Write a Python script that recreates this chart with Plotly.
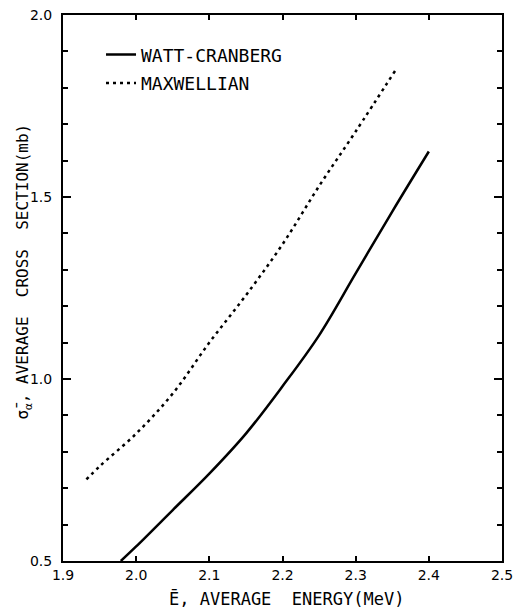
import plotly.graph_objects as go

# Watt-Cranberg spectrum (solid)
wc_energy = [1.979, 2.00, 2.05, 2.10, 2.15, 2.20, 2.25, 2.30, 2.35, 2.40]
wc_sigma = [0.50, 0.54, 0.64, 0.74, 0.85, 0.98, 1.12, 1.29, 1.46, 1.625]

# Maxwellian spectrum (dotted)
mx_energy = [1.932, 1.95, 2.00, 2.05, 2.10, 2.15, 2.20, 2.25, 2.30, 2.355]
mx_sigma = [0.724, 0.76, 0.85, 0.96, 1.10, 1.23, 1.37, 1.53, 1.68, 1.85]

x_ticks = [1.9, 2.0, 2.1, 2.2, 2.3, 2.4, 2.5]
x_tick_labels = ["1.9", "2.0", "2.1", "2.2", "2.3", "2.4", "2.5"]
y_ticks = [0.5, 1.0, 1.5, 2.0]
y_tick_labels = ["0.5", "1.0", "1.5", "2.0"]

TICKFONT = "DejaVu Sans, sans-serif"
LETTERING = "DejaVu Sans Mono, Liberation Mono, monospace"

fig = go.Figure()
fig.add_trace(go.Scatter(x=wc_energy, y=wc_sigma, mode="lines", name="WATT-CRANBERG",
                         legendgroup="a",
                         line=dict(color="black", width=2.5, shape="spline")))
fig.add_trace(go.Scatter(x=mx_energy, y=mx_sigma, mode="lines", name="MAXWELLIAN",
                         legendgroup="b",
                         line=dict(color="black", width=2.5, dash="3px,4px", shape="spline")))

axis_common = dict(showline=True, linecolor="black", linewidth=2, mirror="allticks",
                   ticks="inside", tickcolor="black", tickwidth=1.5, showgrid=False,
                   zeroline=False, automargin=False,
                   tickfont=dict(family=TICKFONT, size=14, color="black"))

fig.update_xaxes(range=[1.9, 2.5], tickvals=x_ticks, ticktext=x_tick_labels, ticklen=5,
                 **axis_common)
fig.update_yaxes(range=[0.5, 2.0], tickvals=y_ticks, ticktext=y_tick_labels, ticklen=8,
                 ticklabelstandoff=6,
                 minor=dict(dtick=0.1, ticks="inside", ticklen=5, tickcolor="black", tickwidth=1.5),
                 **axis_common)

fig.add_annotation(xref="paper", yref="paper", x=-0.089, y=0.53, textangle=-90,
                   text="σ̄<sub>α</sub>, AVERAGE  CROSS  SECTION(mb)", showarrow=False,
                   xanchor="center", yanchor="middle",
                   font=dict(family=LETTERING, size=16, color="black"))
fig.add_annotation(xref="paper", yref="paper", x=0.508, y=-0.068,
                   text="Ē, AVERAGE  ENERGY(MeV)", showarrow=False,
                   xanchor="center", yanchor="middle",
                   font=dict(family=LETTERING, size=17, color="black"))

fig.update_layout(
    width=514, height=610,
    margin=dict(l=63, r=12, t=15, b=49),
    plot_bgcolor="white", paper_bgcolor="white",
    showlegend=True,
    legend=dict(x=0.0866, y=0.961, xanchor="left", yanchor="top",
                bgcolor="rgba(0,0,0,0)", traceorder="grouped", tracegroupgap=2,
                font=dict(family=LETTERING, size=18, color="black")),
)

fig.write_html("out.html", config={"displayModeBar": False},
               post_script="document.body.style.margin='0';document.body.style.overflow='hidden';")
